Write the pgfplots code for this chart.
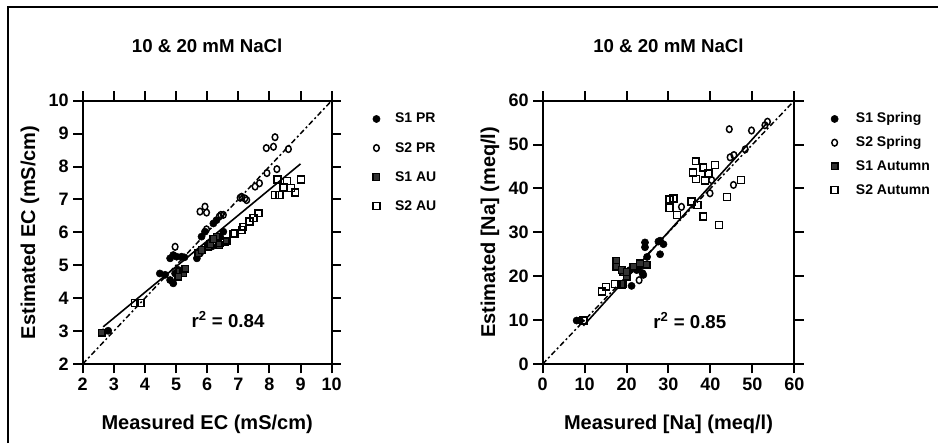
\documentclass[border=0pt]{standalone}
\usepackage{fontspec}
\setmainfont{Liberation Sans}
\usepackage{pgfplots}
\pgfplotsset{compat=1.18}
\begin{document}
\begin{tikzpicture}
\useasboundingbox (0,0) rectangle (703.5pt,332.25pt);
\draw[line width=1.5pt] (6pt,0) -- (6pt,327pt) -- (703.5pt,327pt);
\pgfplotsset{
  common/.style={
    scale only axis, height=197.5pt,
    axis line style={line width=1.5pt},
    tick align=outside, major tick length=7pt,
    every tick/.style={line width=1.5pt, black},
    minor tick num=0,
    /pgf/number format/assume math mode=true,
    ticklabel style={font=\bfseries\fontsize{13.5}{14}\selectfont},
    label style={font=\bfseries\fontsize{15}{16}\selectfont},
    title style={font=\bfseries\fontsize{14}{14}\selectfont, at={(axis description cs:0.5,1)}, anchor=base, yshift=29.8pt},
    xlabel style={at={(axis description cs:0.5,-0.247)}, anchor=base},
    legend cell align=left,
    clip=false,
  },
  s1pr/.style={only marks, mark=*, mark size=2.7pt, mark options={fill=black, draw=black}},
  s2pr/.style={only marks, mark=o, mark size=2.5pt, mark options={line width=1.1pt, draw=black, fill=white, xscale=0.85}},
  s1au/.style={only marks, mark=square*, mark size=2.5pt, mark options={line width=1pt, draw=black, fill=black!80}},
  s2au/.style={only marks, mark=square, mark size=2.6pt, mark options={line width=1.1pt, draw=black, fill=white}},
  oneone/.style={line width=1.1pt, dash pattern=on 4pt off 2pt on 1.5pt off 2pt, forget plot},
  regr/.style={line width=1.2pt, forget plot},
}
% ---------------- Left: EC ----------------
\begin{axis}[common,
  at={(62pt,59.25pt)}, anchor=south west, width=186.75pt,
  xmin=2, xmax=10, ymin=2, ymax=10,
  xtick={2,3,...,10}, ytick={2,3,...,10},
  title={10 \& 20 mM NaCl},
  xlabel={Measured EC (mS/cm)},
  ylabel={Estimated EC (mS/cm)},
  ylabel style={at={(axis description cs:-0.2115,0.5)}, anchor=center},
  legend image code/.code={\path[draw=none, fill=none] (0pt,-2pt) rectangle (19pt,2pt); \path[#1, mark repeat=2, mark phase=2] plot coordinates {(0pt,0pt) (5pt,0pt) (19pt,0pt)};},
  legend style={at={(axis description cs:1.136,0.967)}, anchor=north west, draw=none, fill=none,
    font=\bfseries\fontsize{10.5}{12}\selectfont, row sep=11.8pt,
    nodes={inner sep=0pt, text height=8pt, text depth=2pt}},
]
\addplot[oneone] coordinates {(2,2) (10,10)};
\addplot[regr] coordinates {(2.66,3.13) (9.0,8.08)};
\addplot[s1pr] coordinates {
(2.66,2.96) (2.82,3.01) (4.48,4.75) (4.65,4.71) (4.81,5.21) (4.91,5.31) (5.02,5.26) (5.18,5.26)
(5.27,5.24) (4.81,4.55) (4.91,4.45) (4.97,4.75) (5.07,4.86) (5.23,4.86) (5.67,5.21) (5.77,5.36)
(5.82,5.87) (5.93,6.02) (6.15,5.57) (6.20,6.27) (6.30,6.37) (6.41,5.87) (6.52,6.02)};
\addlegendentry{S1 PR}
\addplot[s2pr] coordinates {
(4.97,5.56) (5.77,6.63) (5.93,6.78) (5.98,6.60) (5.98,6.09) (6.39,6.48) (6.44,6.53) (6.52,6.53)
(7.06,7.05) (7.11,7.08) (7.21,7.03) (7.27,6.98) (7.54,7.39) (7.68,7.49) (7.92,7.80) (8.24,7.92)
(7.90,8.56) (8.13,8.60) (8.18,8.89) (8.61,8.53)};
\addlegendentry{S2 PR}
\addplot[s1au] coordinates {
(2.61,2.95) (5.13,4.81) (5.23,4.76) (5.07,4.65) (5.30,4.90) (5.72,5.36) (5.82,5.46) (6.04,5.56)
(6.10,5.65) (6.30,5.87) (6.39,5.62) (6.63,5.75) (6.20,5.80)};
\addlegendentry{S1 AU}
\addplot[s2au] coordinates {
(3.68,3.86) (3.86,3.86) (6.41,5.67) (6.57,5.72) (6.84,5.95) (6.90,5.97) (7.11,6.07) (7.16,6.17)
(7.36,6.33) (7.49,6.43) (7.65,6.58) (8.18,7.14) (8.32,7.14) (8.26,7.61) (8.45,7.36) (8.56,7.56)
(8.69,7.34) (8.83,7.21) (9.02,7.61)};
\addlegendentry{S2 AU}
\node[font=\bfseries\fontsize{14}{14}\selectfont] at (axis cs:6.67,3.34) {r\textsuperscript{2} = 0.84};
\end{axis}
% ---------------- Right: Na ----------------
\begin{axis}[common,
  at={(407pt,59.25pt)}, anchor=south west, width=188.7pt,
  xmin=0, xmax=60, ymin=0, ymax=60,
  xtick={0,10,...,60}, ytick={0,10,...,60},
  title={10 \& 20 mM NaCl},
  xlabel={Measured [Na] (meq/l)},
  ylabel={Estimated [Na] (meq/l)},
  ylabel style={at={(axis description cs:-0.2093,0.5)}, anchor=center},
  legend image code/.code={\path[draw=none, fill=none] (0pt,-2pt) rectangle (21pt,2pt); \path[#1, mark repeat=2, mark phase=2] plot coordinates {(0pt,0pt) (5pt,0pt) (21pt,0pt)};},
  legend style={at={(axis description cs:1.117,0.967)}, anchor=north west, draw=none, fill=none,
    font=\bfseries\fontsize{10.5}{12}\selectfont, row sep=7.8pt,
    nodes={inner sep=0pt, text height=8pt, text depth=2pt}},
]
\addplot[oneone] coordinates {(0,0) (60,60)};
\addplot[regr] coordinates {(9.7,8.7) (53.4,54.8)};
\addplot[s1pr] coordinates {
(8.1,9.9) (8.9,9.9) (21.2,17.8) (23.8,20.7) (24.0,20.3) (24.4,27.7) (24.4,26.6) (24.9,24.4)
(28.0,28.1) (28.0,25.0) (28.8,27.3) (27.6,27.9) (20.0,20.7) (20.8,21.4) (22.4,21.4) (23.2,22.2)};
\addlegendentry{S1 Spring}
\addplot[s2pr] coordinates {
(23.0,19.1) (33.1,35.8) (39.9,38.9) (40.3,41.9) (44.5,53.5) (44.7,47.1) (45.6,47.6) (45.5,40.8)
(48.3,48.9) (49.8,53.2) (53.0,54.4) (53.6,55.2)};
\addlegendentry{S2 Spring}
\addplot[s1au] coordinates {
(17.6,23.5) (17.6,22.2) (19.2,21.0) (18.8,21.4) (20.0,19.9) (21.6,22.2) (23.2,22.9) (24.8,22.6)
(18.8,18.0) (19.2,18.2) (20.0,21.0)};
\addlegendentry{S1 Autumn}
\addplot[s2au] coordinates {
(14.1,16.5) (15.1,17.6) (17.2,18.2) (18.8,18.2) (9.7,9.9) (30.2,37.5) (31.2,37.7) (30.2,35.5)
(32.0,33.9) (35.5,37.0) (36.9,36.2) (35.8,43.6) (36.5,46.2) (36.6,42.1) (38.3,44.8) (38.7,41.8)
(39.5,43.4) (41.1,45.3) (38.3,33.6) (42.1,31.7) (44.0,38.1) (47.3,41.9)};
\addlegendentry{S2 Autumn}
\node[font=\bfseries\fontsize{14}{14}\selectfont] at (axis cs:35.1,10.0) {r\textsuperscript{2} = 0.85};
\end{axis}
\end{tikzpicture}
\end{document}
